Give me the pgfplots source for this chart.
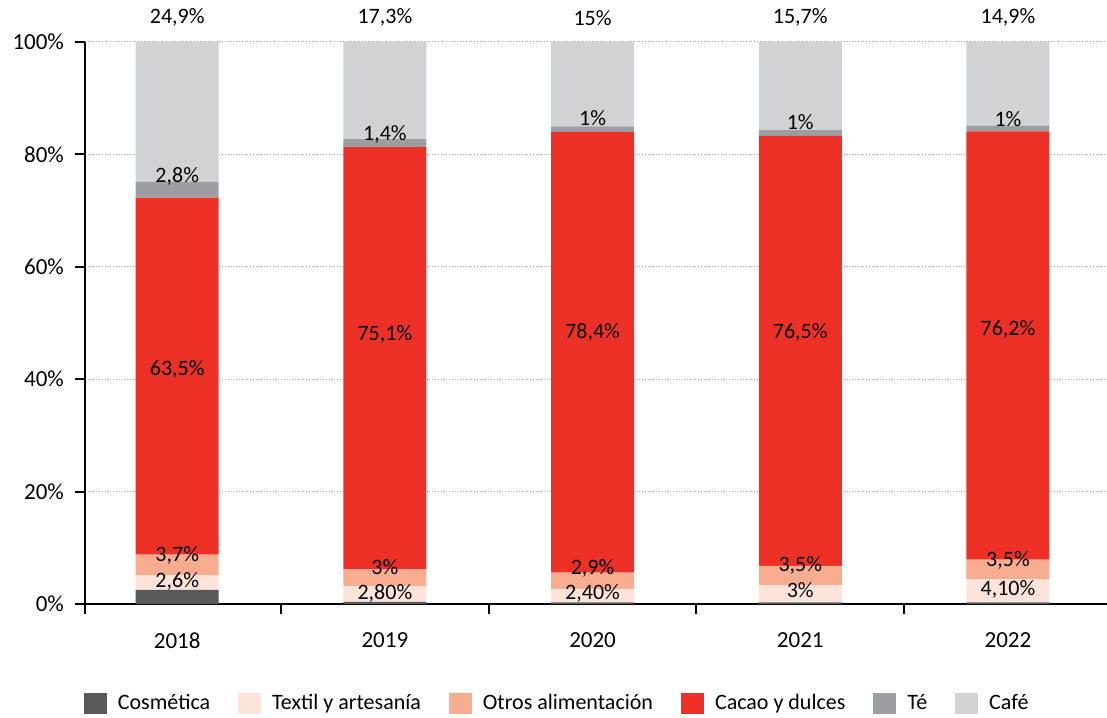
\documentclass[border=0pt]{standalone}
\usepackage{pgfplots}
\pgfplotsset{compat=1.18}
\usepackage{pgfplotstable}
\usepackage{fontspec}
\setmainfont{Carlito}

\definecolor{cCos}{HTML}{58595B}
\definecolor{cTex}{HTML}{FDE4DA}
\definecolor{cOtr}{HTML}{F9AD90}
\definecolor{cCac}{HTML}{EE3127}
\definecolor{cTe}{HTML}{9D9EA2}
\definecolor{cCaf}{HTML}{D1D2D4}

% shares per year (%)
\pgfplotstableread{
x cos tex otr cac te caf
0 2.5 2.6 3.7 63.5 2.8 24.9
1 0.4 2.8 3.0 75.1 1.4 17.3
2 0.3 2.4 2.9 78.4 1.0 15.0
3 0.3 3.0 3.5 76.5 1.0 15.7
4 0.3 4.1 3.5 76.2 1.0 14.9
}\shares

% label positions (y in %) and texts
\pgfplotstableread{
x y lab
0 4.0 2,6
0 8.7 3,7
0 41.8 63,5
0 76.0 2,8
0 104.3 24,9
1 1.8 2,80
1 6.6 3
1 48.0 75,1
1 83.6 1,4
1 104.3 17,3
2 1.9 2,40
2 6.3 2,9
2 48.4 78,4
2 86.5 1
2 104.3 15
3 2.4 3
3 6.85 3,5
3 48.4 76,5
3 85.7 1
3 104.3 15,7
4 2.6 4,10
4 7.7 3,5
4 48.9 76,2
4 86.2 1
4 104.3 14,9
}\labels

\pgfplotsset{
  seg/.style={fill=#1, draw=none,
    legend image code/.code={\fill[##1] (0pt,-5.4pt) rectangle (11.5pt,5.4pt);}},
}

\begin{document}
\begin{tikzpicture}
\path[use as bounding box] (-42.5pt,-56.5pt) rectangle (511pt,302pt);
\begin{axis}[
  scale only axis, width=511pt, height=281pt,
  ybar stacked, bar width=41.5pt,
  xmin=-0.444, xmax=4.477, ymin=0, ymax=100,
  axis x line*=bottom, axis y line*=left,
  axis line style={black, line width=1pt},
  xtick={0,...,4}, xticklabels={2018,2019,2020,2021,2022},
  minor xtick={-0.444,0.5,1.5,2.5,3.5},
  major x tick style={draw=none},
  minor x tick style={draw=black, line width=1pt},
  ytick={0,20,...,100},
  yticklabel={\pgfmathprintnumber{\tick}\%},
  y tick style={draw=black, line width=1pt},
  tick align=outside, major tick length=5pt, minor tick length=5pt,
  ymajorgrids, grid style={densely dotted, gray!70, line width=0.5pt},
  /pgf/number format/assume math mode=true,
  ticklabel style={font=\fontsize{11.5}{13}\selectfont},
  xticklabel style={yshift=-6pt},
  yticklabel style={xshift=-2pt},
  legend columns=6,
  legend style={draw=none, at={(0.463,-0.177)}, anchor=center,
    font=\fontsize{11}{13}\selectfont,
    /tikz/every odd column/.append style={column sep=3.5pt},
    /tikz/every even column/.append style={column sep=12pt}},
]
\addplot[seg=cCos] table[x=x,y=cos]{\shares}; \addlegendentry{Cosmética}
\addplot[seg=cTex] table[x=x,y=tex]{\shares}; \addlegendentry{Textil y artesanía}
\addplot[seg=cOtr] table[x=x,y=otr]{\shares}; \addlegendentry{Otros alimentación}
\addplot[seg=cCac] table[x=x,y=cac]{\shares}; \addlegendentry{Cacao y dulces}
\addplot[seg=cTe] table[x=x,y=te]{\shares}; \addlegendentry{Té}
\addplot[seg=cCaf] table[x=x,y=caf]{\shares}; \addlegendentry{Café}
\end{axis}
\begin{axis}[
  scale only axis, width=511pt, height=281pt,
  xmin=-0.444, xmax=4.477, ymin=0, ymax=100,
  hide axis, clip=false,
]
\addplot[draw=none, mark=none, nodes near coords={\pgfplotspointmeta\%},
  point meta=explicit symbolic,
  every node near coord/.append style={anchor=center, inner sep=0pt,
    font=\fontsize{11}{13}\selectfont, text=black}]
  table[x=x,y=y,meta=lab]{\labels};
\end{axis}
\end{tikzpicture}
\end{document}
